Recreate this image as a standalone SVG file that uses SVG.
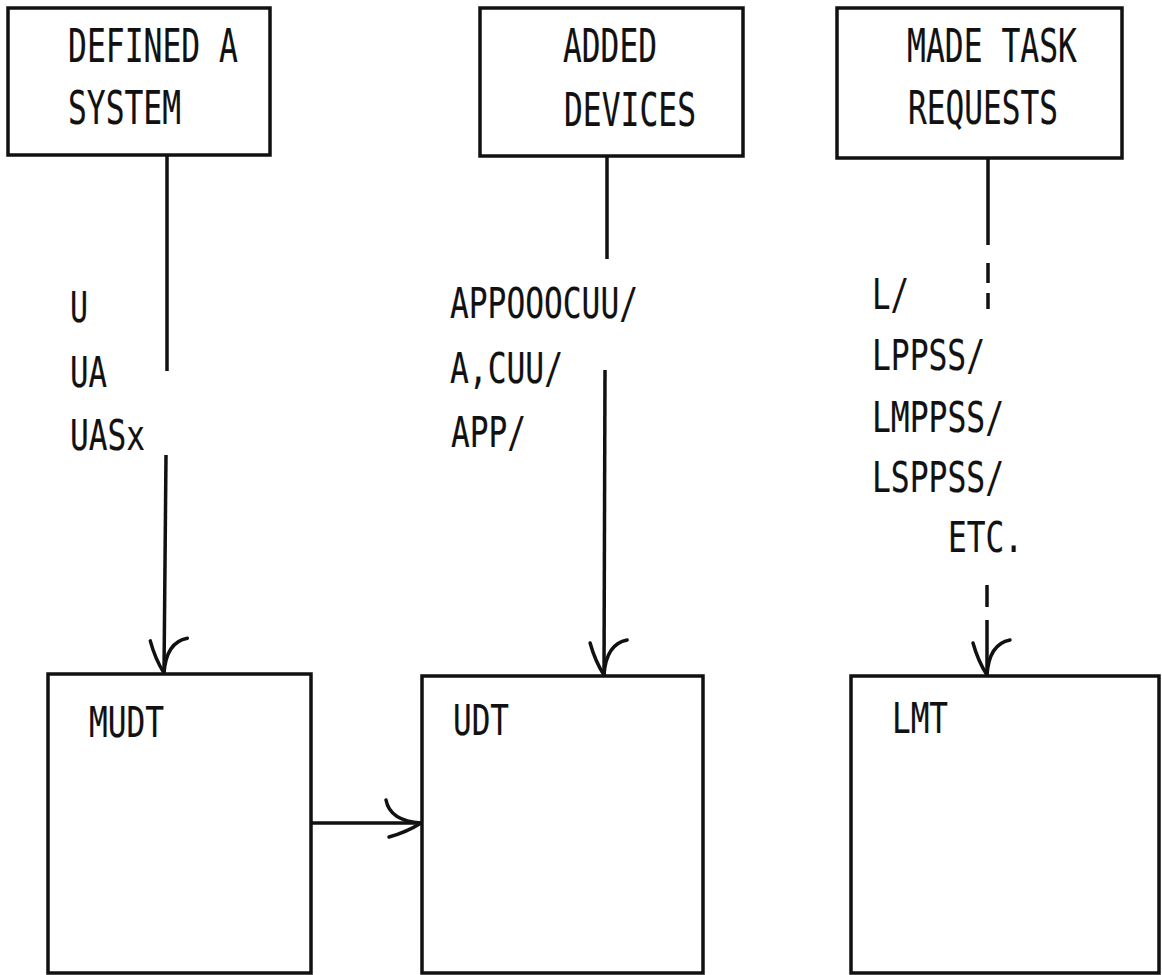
<svg xmlns="http://www.w3.org/2000/svg" width="1162" height="975" viewBox="0 0 1162 975">
<style>
.box{fill:none;stroke:#111;stroke-width:3.5}
.ln{fill:none;stroke:#111;stroke-width:3.5}
.t{font-family:"DejaVu Sans Mono","Liberation Mono",monospace;font-size:42px;fill:#111;stroke:#111;stroke-width:0.2}
.h{font-size:46px}
</style>
<defs>
<marker id="arr" markerUnits="userSpaceOnUse" markerWidth="80" markerHeight="80" refX="0" refY="0" orient="auto" overflow="visible">
<path d="M -32,14 Q -14,9 0,0 M -35,-23 Q -31,-2 0,0" fill="none" stroke="#111" stroke-width="3.5" stroke-linecap="round"/>
</marker>
</defs>
<rect width="1162" height="975" fill="#fff"/>
<g id="node-defined">
<rect class="box" x="8" y="8" width="262" height="147"/>
<text class="t h" x="68" y="62" textLength="170" lengthAdjust="spacingAndGlyphs">DEFINED A</text>
<text class="t h" x="68" y="124" textLength="113" lengthAdjust="spacingAndGlyphs">SYSTEM</text>
</g>
<g id="node-added">
<rect class="box" x="480" y="8" width="263" height="148"/>
<text class="t h" x="563" y="62" textLength="94" lengthAdjust="spacingAndGlyphs">ADDED</text>
<text class="t h" x="564" y="126" textLength="132" lengthAdjust="spacingAndGlyphs">DEVICES</text>
</g>
<g id="node-made">
<rect class="box" x="837" y="8" width="285" height="150"/>
<text class="t h" x="907" y="62" textLength="170" lengthAdjust="spacingAndGlyphs">MADE TASK</text>
<text class="t h" x="908" y="124" textLength="150" lengthAdjust="spacingAndGlyphs">REQUESTS</text>
</g>
<g id="node-mudt">
<rect class="box" x="48" y="674" width="263" height="299"/>
<text class="t" x="89" y="737" textLength="75" lengthAdjust="spacingAndGlyphs">MUDT</text>
</g>
<g id="node-udt">
<rect class="box" x="422" y="676" width="281" height="297"/>
<text class="t" x="453" y="735" textLength="56" lengthAdjust="spacingAndGlyphs">UDT</text>
</g>
<g id="node-lmt">
<rect class="box" x="851" y="676" width="308" height="297"/>
<text class="t" x="892" y="733" textLength="56" lengthAdjust="spacingAndGlyphs">LMT</text>
</g>
<g id="connectors">
<line class="ln" x1="167" y1="155" x2="167" y2="371"/>
<line class="ln" x1="166" y1="455" x2="164" y2="673" marker-end="url(#arr)"/>
<line class="ln" x1="607" y1="156" x2="607" y2="259"/>
<line class="ln" x1="605" y1="370" x2="604" y2="675" marker-end="url(#arr)"/>
<line class="ln" x1="988" y1="158" x2="988" y2="245"/>
<line class="ln" x1="988" y1="263" x2="988" y2="283"/>
<line class="ln" x1="988" y1="293" x2="988" y2="309"/>
<line class="ln" x1="987" y1="585" x2="987" y2="607"/>
<line class="ln" x1="987" y1="620" x2="987" y2="675" marker-end="url(#arr)"/>
<line class="ln" x1="310" y1="823" x2="421" y2="823" marker-end="url(#arr)"/>
</g>
<g id="labels">
<text class="t" x="70" y="322" textLength="18" lengthAdjust="spacingAndGlyphs">U</text>
<text class="t" x="70" y="387" textLength="37" lengthAdjust="spacingAndGlyphs">UA</text>
<text class="t" x="70" y="450" textLength="75" lengthAdjust="spacingAndGlyphs">UASx</text>
<text class="t" x="450" y="318" textLength="188" lengthAdjust="spacingAndGlyphs">APPOOOCUU/</text>
<text class="t" x="450" y="383" textLength="113" lengthAdjust="spacingAndGlyphs">A,CUU/</text>
<text class="t" x="451" y="447" textLength="75" lengthAdjust="spacingAndGlyphs">APP/</text>
<text class="t" x="872" y="309" textLength="37" lengthAdjust="spacingAndGlyphs">L/</text>
<text class="t" x="872" y="370" textLength="113" lengthAdjust="spacingAndGlyphs">LPPSS/</text>
<text class="t" x="872" y="432" textLength="132" lengthAdjust="spacingAndGlyphs">LMPPSS/</text>
<text class="t" x="872" y="492" textLength="132" lengthAdjust="spacingAndGlyphs">LSPPSS/</text>
<text class="t" x="948" y="552" textLength="75" lengthAdjust="spacingAndGlyphs">ETC.</text>
</g>
</svg>
